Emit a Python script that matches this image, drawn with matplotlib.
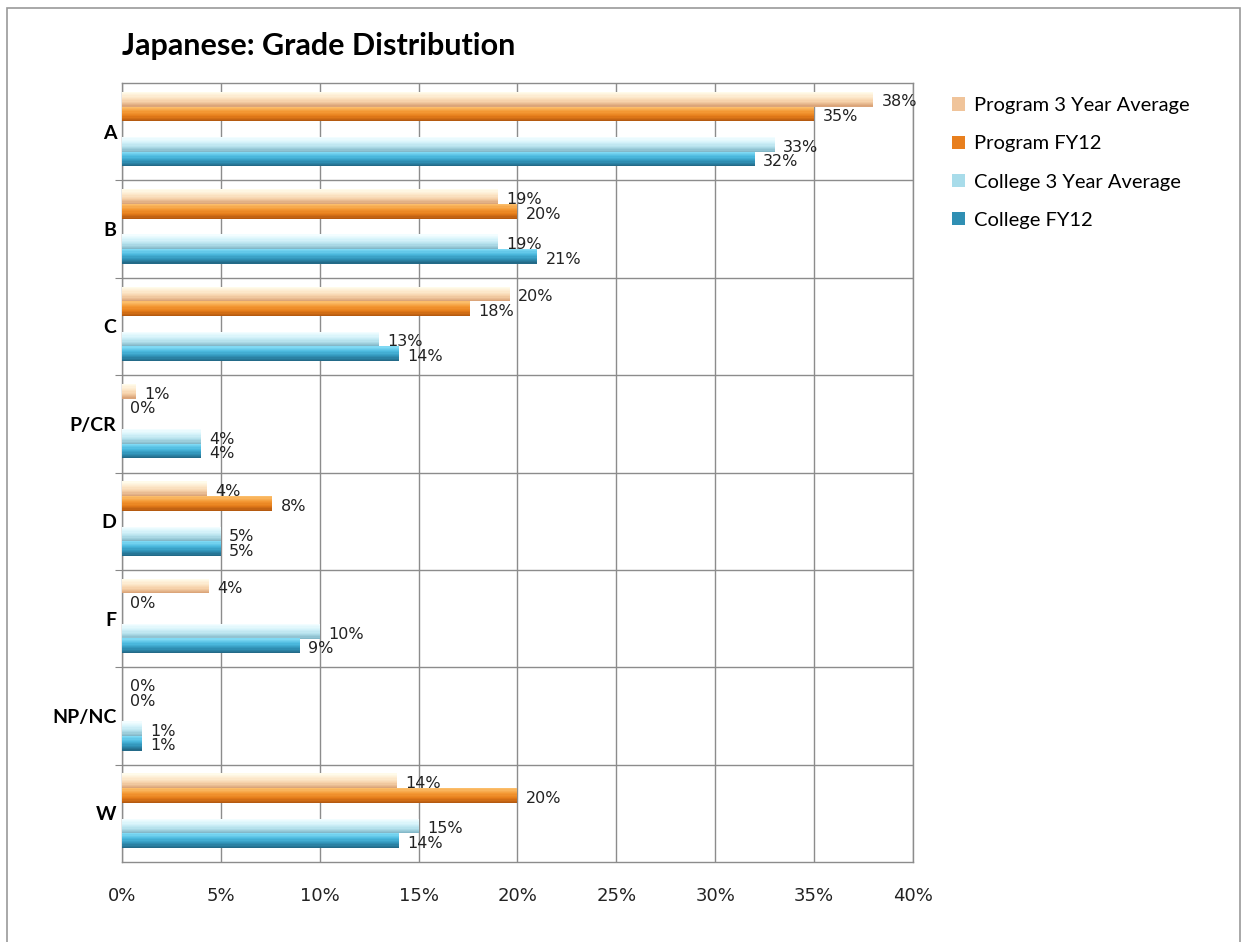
import numpy as np
import matplotlib.pyplot as plt
from matplotlib.colors import LinearSegmentedColormap
from matplotlib.patches import Patch, Rectangle

grades = ["A", "B", "C", "P/CR", "D", "F", "NP/NC", "W"]
series_names = ["Program 3 Year Average", "Program FY12",
                "College 3 Year Average", "College FY12"]

# values in percent
prog_3yr = [38.0, 19.0, 19.6, 0.7, 4.3, 4.4, 0.0, 13.9]
prog_fy12 = [35.0, 20.0, 17.6, 0.0, 7.6, 0.0, 0.0, 20.0]
coll_3yr = [33.0, 19.0, 13.0, 4.0, 5.0, 10.0, 1.0, 15.0]
coll_fy12 = [32.0, 21.0, 14.0, 4.0, 5.0, 9.0, 1.0, 14.0]

# gradient colours, top edge -> bottom edge of each bar
grads = [
    ["#fffbea", "#fde9cc", "#f5d0a8", "#dba57a"],
    ["#fbbd6a", "#f49a36", "#e67d1a", "#b55a10"],
    ["#f2fdff", "#d6f3fa", "#b3e0ec", "#84b8c8"],
    ["#7fd9f4", "#4cbadf", "#3295ba", "#236a88"],
]
legend_cols = ["#f0c49a", "#e87f1e", "#a8dcea", "#2f8fb3"]

offsets = [-0.334, -0.182, 0.131, 0.28]
bar_h = 0.152
n_strips = 12

fig = plt.figure(figsize=(12.43, 9.42), dpi=100)
ax = fig.add_axes([0.0981, 0.0849, 0.6364, 0.827])

y = np.arange(len(grades))
all_series = [prog_3yr, prog_fy12, coll_3yr, coll_fy12]

for k, vals in enumerate(all_series):
    cmap = LinearSegmentedColormap.from_list("g%d" % k, grads[k])
    for s in range(n_strips):
        # strip s counts from the top edge of the bar (y axis is inverted)
        top = y + offsets[k] - bar_h / 2 + s * bar_h / n_strips
        ax.barh(top, vals, height=bar_h / n_strips, align="edge",
                color=cmap(s / (n_strips - 1)), linewidth=0, zorder=3)
    for yi, v in zip(y, vals):
        ax.annotate("%d%%" % round(v), xy=(v, yi + offsets[k]),
                    xytext=(6, -2), textcoords="offset points",
                    ha="left", va="center", fontsize=11.5,
                    family="DejaVu Sans", color="#222222", zorder=5)

ax.set_xlim(0, 40)
ax.set_ylim(len(grades) - 0.5, -0.5)

ax.set_xticks(np.arange(0, 41, 5))
ax.set_xticklabels(["%d%%" % t for t in range(0, 41, 5)],
                   fontsize=13, family="DejaVu Sans", color="#222222")
ax.set_yticks(np.arange(0.5, len(grades) - 0.5, 1.0))
ax.set_yticklabels([])
ax.set_yticks(y, minor=True)
ax.set_yticklabels(grades, minor=True, fontsize=14, fontweight="bold",
                   family="Lato")
ax.tick_params(axis="y", which="minor", length=0, pad=4)
ax.tick_params(axis="y", which="major", length=5, color="#888888")
ax.tick_params(axis="x", length=0, pad=18)

ax.grid(True, which="major", color="#8c8c8c", linewidth=1.0, zorder=0)
ax.set_axisbelow(True)
for sp in ax.spines.values():
    sp.set_color("#8c8c8c")
    sp.set_linewidth(1.0)

fig.text(0.0981, 0.951, "Japanese: Grade Distribution", fontsize=22,
         fontweight="bold", family="Lato", ha="left", va="center")

handles = [Patch(facecolor=c, edgecolor="none") for c in legend_cols]
fig.legend(handles, series_names, loc="upper left",
           bbox_to_anchor=(0.751, 0.916), frameon=False,
           prop={"family": "Lato", "size": 14.5},
           handlelength=0.65, handleheight=0.65, handletextpad=0.45,
           labelspacing=1.05)

fig.patches.append(Rectangle((0.0056, -0.05), 0.992, 1.0415,
                             transform=fig.transFigure, fill=False,
                             edgecolor="#9a9a9a", linewidth=1.2))

fig.savefig("out.png", dpi=100, facecolor="white")
